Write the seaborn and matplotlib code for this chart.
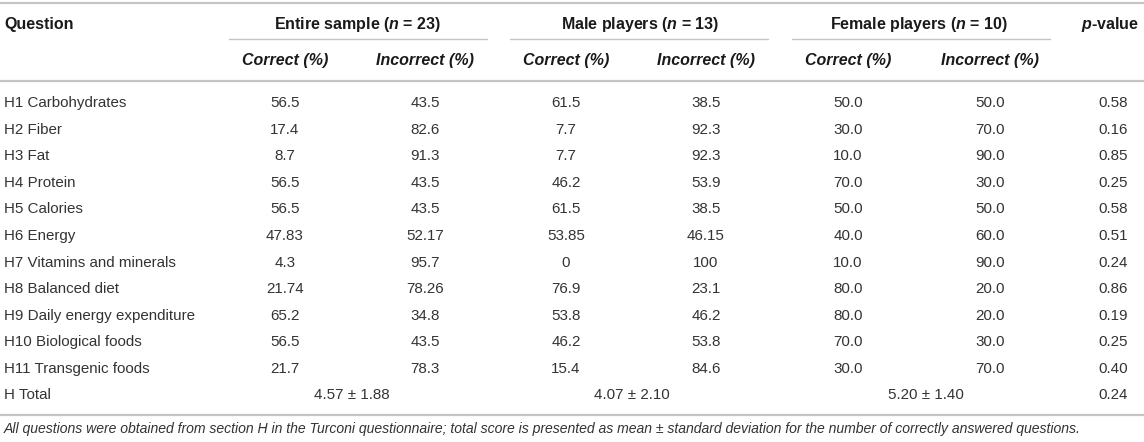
import matplotlib
matplotlib.use("Agg")
import matplotlib.pyplot as plt
import seaborn as sns

# table content
questions = ["H1 Carbohydrates", "H2 Fiber", "H3 Fat", "H4 Protein", "H5 Calories",
             "H6 Energy", "H7 Vitamins and minerals", "H8 Balanced diet",
             "H9 Daily energy expenditure", "H10 Biological foods", "H11 Transgenic foods"]
entire_correct = ["56.5", "17.4", "8.7", "56.5", "56.5", "47.83", "4.3", "21.74", "65.2", "56.5", "21.7"]
entire_incorrect = ["43.5", "82.6", "91.3", "43.5", "43.5", "52.17", "95.7", "78.26", "34.8", "43.5", "78.3"]
male_correct = ["61.5", "7.7", "7.7", "46.2", "61.5", "53.85", "0", "76.9", "53.8", "46.2", "15.4"]
male_incorrect = ["38.5", "92.3", "92.3", "53.9", "38.5", "46.15", "100", "23.1", "46.2", "53.8", "84.6"]
female_correct = ["50.0", "30.0", "10.0", "70.0", "50.0", "40.0", "10.0", "80.0", "80.0", "70.0", "30.0"]
female_incorrect = ["50.0", "70.0", "90.0", "30.0", "50.0", "60.0", "90.0", "20.0", "20.0", "30.0", "70.0"]
p_values = ["0.58", "0.16", "0.85", "0.25", "0.58", "0.51", "0.24", "0.86", "0.19", "0.25", "0.40"]

groups = [r"Entire sample ($\mathit{n}$ = 23)", r"Male players ($\mathit{n}$ = 13)",
          r"Female players ($\mathit{n}$ = 10)"]
total_scores = ["4.57 ± 1.88", "4.07 ± 2.10", "5.20 ± 1.40"]
total_p = "0.24"
footnote = ("All questions were obtained from section H in the Turconi questionnaire; total score is "
            "presented as mean ± standard deviation for the number of correctly answered questions.")

sns.set_theme(style="white")
plt.rcParams["font.family"] = ["Liberation Sans", "DejaVu Sans"]
plt.rcParams["mathtext.fontset"] = "custom"
plt.rcParams["mathtext.it"] = "Liberation Sans:italic:bold"
plt.rcParams["mathtext.rm"] = "Liberation Sans:bold"

W, H = 1144, 442
fig = plt.figure(figsize=(W / 100, H / 100), dpi=100)
ax = fig.add_axes([0, 0, 1, 1])
ax.set_xlim(0, W)
ax.set_ylim(H, 0)
ax.axis("off")

txt = "#333333"
hdr = "#1a1a1a"
line_c = "#c4c4c4"
fs = 10.9
fs_h = 11.5

col_x = [285, 425, 566, 706, 848, 990, 1113]
group_x = [358, 640, 919]
spans = [(229, 487), (510, 768), (792, 1050)]
row0, step = 103, 26.6

# rules
ax.plot([0, W], [3, 3], color=line_c, lw=1.6)
ax.plot([0, W], [81, 81], color=line_c, lw=1.6)
ax.plot([0, W], [415, 415], color=line_c, lw=1.6)
for a, b in spans:
    ax.plot([a, b], [39, 39], color=line_c, lw=1.0)

# headers
ax.text(4, 25, "Question", fontsize=fs_h, fontweight="bold", color=hdr, va="center")
for gx, g in zip(group_x, groups):
    ax.text(gx, 25, g, fontsize=fs_h, fontweight="bold", color=hdr, ha="center", va="center")
ax.text(1110, 25, r"$\mathit{p}$-value", fontsize=fs_h, fontweight="bold", color=hdr,
        ha="center", va="center")
for i in range(6):
    label = "Correct (%)" if i % 2 == 0 else "Incorrect (%)"
    ax.text(col_x[i], 61, label, fontsize=fs_h, fontweight="bold", style="italic",
            color=hdr, ha="center", va="center")

# body
cols = [entire_correct, entire_incorrect, male_correct, male_incorrect,
        female_correct, female_incorrect, p_values]
for r, q in enumerate(questions):
    y = row0 + r * step
    ax.text(4, y, q, fontsize=fs, color=txt, va="center")
    for cx, col in zip(col_x, cols):
        ax.text(cx, y, col[r], fontsize=fs, color=txt, ha="center", va="center")

ty = 395
ax.text(4, ty, "H Total", fontsize=fs, color=txt, va="center")
for gx, t in zip([352, 632, 926], total_scores):
    ax.text(gx, ty, t, fontsize=fs, color=txt, ha="center", va="center")
ax.text(col_x[-1], ty, total_p, fontsize=fs, color=txt, ha="center", va="center")

ax.text(4, 429, footnote, fontsize=10.1, style="italic", color=txt, va="center")

fig.savefig("out.png", dpi=100)
